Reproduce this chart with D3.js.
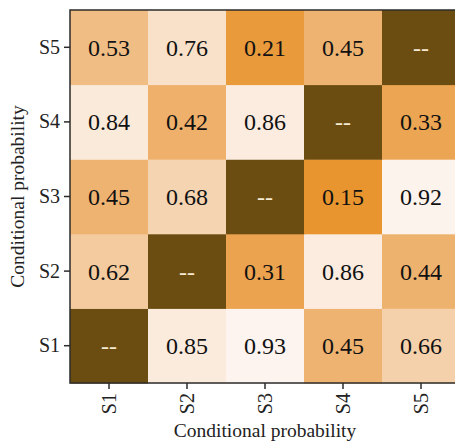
<!DOCTYPE html>
<html>
<head>
<meta charset="utf-8">
<script src="https://cdn.jsdelivr.net/npm/d3@7"></script>
<style>
  body { margin: 0; background: #fff; }
  svg text { font-family: "Liberation Serif", "Times New Roman", serif; }
</style>
</head>
<body>
<div id="chart"></div>
<script>
// categories on both axes
const states = ['S1', 'S2', 'S3', 'S4', 'S5'];

// one array per row (y category), columns follow states; null = diagonal "--"
const rowS1 = [null, 0.85, 0.93, 0.45, 0.66];
const rowS2 = [0.62, null, 0.31, 0.86, 0.44];
const rowS3 = [0.45, 0.68, null, 0.15, 0.92];
const rowS4 = [0.84, 0.42, 0.86, null, 0.33];
const rowS5 = [0.53, 0.76, 0.21, 0.45, null];
const rows = [rowS1, rowS2, rowS3, rowS4, rowS5];

const xTitle = 'Conditional probability';
const yTitle = 'Conditional probability';

const width = 455, height = 442;
const margin = { top: 10, left: 70 };
const plotW = 390, plotH = 373;
const serif = '"Liberation Serif", "Times New Roman", serif';

const svg = d3.select('#chart')
  .append('svg')
  .attr('width', width)
  .attr('height', height)
  .style('display', 'block');

const g = svg.append('g')
  .attr('transform', `translate(${margin.left},${margin.top})`);

const x = d3.scaleBand().domain(states).range([0, plotW]);
const y = d3.scaleBand().domain(states).range([plotH, 0]);

// light orange for high values, saturated orange for low ones
const color = d3.scaleLinear()
  .domain([0.15, 0.33, 0.53, 0.76, 0.93])
  .range(['#e8952f', '#eca553', '#f0bd85', '#f8e1c8', '#fdf4ef'])
  .clamp(true);
const diagColor = '#6c4d11';

const cells = [];
rows.forEach((row, i) => {
  row.forEach((v, j) => {
    cells.push({ row: states[i], col: states[j], value: v });
  });
});

g.selectAll('rect.cell')
  .data(cells)
  .enter()
  .append('rect')
  .attr('class', 'cell')
  .attr('x', d => x(d.col))
  .attr('y', d => y(d.row))
  .attr('width', x.bandwidth() + 0.5)
  .attr('height', y.bandwidth() + 0.5)
  .attr('fill', d => d.value == null ? diagColor : color(d.value));

g.selectAll('text.val')
  .data(cells)
  .enter()
  .append('text')
  .attr('class', 'val')
  .attr('x', d => x(d.col) + x.bandwidth() / 2)
  .attr('y', d => y(d.row) + y.bandwidth() / 2)
  .attr('dy', '0.35em')
  .attr('text-anchor', 'middle')
  .attr('font-family', serif)
  .style('font-size', '24px')
  .attr('fill', d => d.value == null ? '#f6ead2' : '#111')
  .text(d => d.value == null ? '--' : d.value.toFixed(2));

// frame (right side falls outside the window)
g.append('rect')
  .attr('width', plotW)
  .attr('height', plotH)
  .attr('fill', 'none')
  .attr('stroke', '#2b2b2b')
  .attr('stroke-width', 1.5);

// axes
const xAxis = g.append('g')
  .attr('transform', `translate(0,${plotH})`)
  .call(d3.axisBottom(x).tickSize(6).tickPadding(4))
  .attr('font-family', serif);
xAxis.select('.domain').remove();
xAxis.selectAll('text')
  .style('font-size', '20px')
  .attr('fill', '#222')
  .attr('transform', 'rotate(-90)')
  .attr('text-anchor', 'end')
  .attr('x', -10)
  .attr('y', 0)
  .attr('dy', '0.35em');

const yAxis = g.append('g')
  .call(d3.axisLeft(y).tickSize(6).tickPadding(4))
  .attr('font-family', serif);
yAxis.select('.domain').remove();
yAxis.selectAll('text')
  .style('font-size', '20px')
  .attr('fill', '#222');

g.selectAll('.tick line')
  .attr('stroke', '#2b2b2b')
  .attr('stroke-width', 1.5);

// axis titles
svg.append('text')
  .attr('x', margin.left + plotW / 2)
  .attr('y', 437)
  .attr('text-anchor', 'middle')
  .attr('font-family', serif)
  .style('font-size', '19.5px')
  .attr('fill', '#222')
  .text(xTitle);

svg.append('text')
  .attr('transform', `translate(24,${margin.top + plotH / 2}) rotate(-90)`)
  .attr('text-anchor', 'middle')
  .attr('font-family', serif)
  .style('font-size', '19.5px')
  .attr('fill', '#222')
  .text(yTitle);
</script>
</body>
</html>
